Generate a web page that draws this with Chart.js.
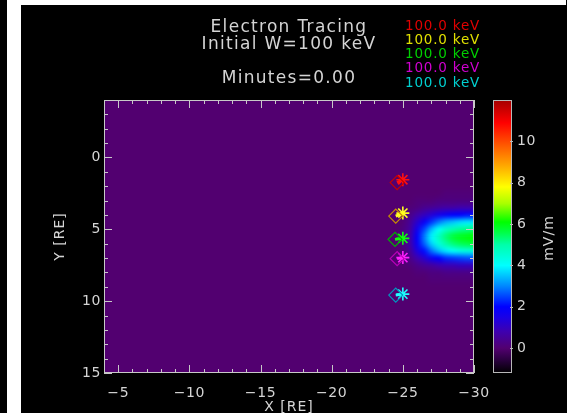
<!DOCTYPE html>
<html>
<head>
<meta charset="utf-8">
<script src="https://cdn.jsdelivr.net/npm/chart.js@4.4.1/dist/chart.umd.min.js"></script>
<style>
  html, body { margin: 0; padding: 0; background: #000; overflow: hidden; }
  #c { display: block; }
</style>
</head>
<body>
<canvas id="c" width="567" height="413"></canvas>
<script>
// Particle tracing snapshot: five 100 keV electrons over the electric field map

const particleLabels = ['100.0 keV', '100.0 keV', '100.0 keV', '100.0 keV', '100.0 keV'];
const particleColors = ['#ff1010', '#ffff20', '#10ff10', '#ff20ff', '#20ffff'];
const legendColors   = ['#e00000', '#e0e000', '#00d000', '#d000d0', '#00d0d0'];
const startColors    = ['#c80000', '#c89000', '#00b000', '#b800b8', '#0098c0'];

// current electron positions [RE]
const posX = [-25.0, -25.0, -25.0, -25.0, -25.0];
const posY = [1.55, 3.87, 5.63, 6.97, 9.51];
// launch positions [RE]
const startX = [-24.6, -24.5, -24.45, -24.6, -24.5];
const startY = [1.75, 4.08, 5.70, 7.04, 9.58];

const xTickValues = [-5, -10, -15, -20, -25, -30];
const xTickLabels = ['\u22125', '\u221210', '\u221215', '\u221220', '\u221225', '\u221230'];
const yTickValues = [0, 5, 10, 15];
const yTickLabels = ['0', '5', '10', '15'];
const cbTickValues = [0, 2, 4, 6, 8, 10];
const cbTickLabels = ['0', '2', '4', '6', '8', '10'];

// electric field magnitude [mV/m] on a 0.5 RE grid; zero everywhere else
const fieldX = [-24.5, -25.0, -25.5, -26.0, -26.5, -27.0, -27.5, -28.0, -28.5, -29.0, -29.5, -30.0];
const fieldY = [2.0, 2.5, 3.0, 3.5, 4.0, 4.5, 5.0, 5.5, 6.0, 6.5, 7.0, 7.5, 8.0, 8.5, 9.0];
const fieldE = [
  [0, 0.0, 0.0, 0.0, 0.0, 0.0, 0.0, 0.0, 0.0, 0.0, 0.0, 0.0],
  [0, 0.0, 0.0, 0.0, 0.0, 0.0, 0.0, 0.1, 0.1, 0.1, 0.1, 0.1],
  [0, 0.0, 0.0, 0.1, 0.1, 0.1, 0.2, 0.2, 0.2, 0.2, 0.2, 0.2],
  [0, 0.0, 0.1, 0.2, 0.4, 0.5, 0.6, 0.7, 0.7, 0.8, 0.8, 0.8],
  [0, 0.1, 0.3, 0.7, 1.0, 1.3, 1.6, 1.8, 2.0, 2.0, 2.1, 2.1],
  [0, 0.1, 0.5, 1.2, 1.8, 2.4, 2.9, 3.3, 3.5, 3.7, 3.8, 3.8],
  [0, 0.2, 0.6, 1.6, 2.5, 3.4, 4.1, 4.6, 4.9, 5.1, 5.2, 5.3],
  [0, 0.2, 0.7, 1.9, 2.9, 3.9, 4.7, 5.3, 5.7, 5.9, 6.0, 6.1],
  [0, 0.2, 0.7, 1.8, 2.7, 3.6, 4.4, 5.0, 5.3, 5.5, 5.6, 5.7],
  [0, 0.1, 0.5, 1.4, 2.1, 2.8, 3.4, 3.8, 4.1, 4.3, 4.4, 4.4],
  [0, 0.1, 0.3, 0.8, 1.2, 1.7, 2.0, 2.3, 2.4, 2.5, 2.6, 2.6],
  [0, 0.0, 0.1, 0.3, 0.5, 0.6, 0.8, 0.9, 0.9, 1.0, 1.0, 1.0],
  [0, 0.0, 0.0, 0.1, 0.1, 0.2, 0.2, 0.3, 0.3, 0.3, 0.3, 0.3],
  [0, 0.0, 0.0, 0.0, 0.0, 0.1, 0.1, 0.1, 0.1, 0.1, 0.1, 0.1],
  [0, 0.0, 0.0, 0.0, 0.0, 0.0, 0.0, 0.0, 0.0, 0.0, 0.0, 0.0]
];

// colour table (value in mV/m -> rgb)
const cmapValues = [-1.2, -0.6, 0.0, 0.8, 1.5, 2.0, 3.0, 4.0, 5.0, 5.6, 6.1, 7.0, 7.8, 8.8, 9.8, 10.9, 12.0];
const cmapColors = [
  [0, 0, 0], [40, 0, 60], [82, 0, 112], [62, 0, 175], [25, 0, 230], [0, 0, 255],
  [0, 135, 255], [0, 255, 255], [0, 255, 170], [0, 255, 70], [0, 255, 0], [170, 255, 0],
  [255, 255, 0], [255, 170, 0], [255, 90, 0], [255, 0, 0], [165, 0, 0]
];
const cbMin = -1.2, cbMax = 12.0;

const FONT = '"DejaVu Sans", sans-serif';
const TEXT = '#d4d4d4';

function colorOf(v) {
  if (v <= cmapValues[0]) return cmapColors[0];
  for (let i = 1; i < cmapValues.length; i++) {
    if (v <= cmapValues[i]) {
      const t = (v - cmapValues[i - 1]) / (cmapValues[i] - cmapValues[i - 1]);
      const a = cmapColors[i - 1], b = cmapColors[i];
      return [0, 1, 2].map(k => Math.round(a[k] + (b[k] - a[k]) * t));
    }
  }
  return cmapColors[cmapColors.length - 1];
}
const rgb = c => `rgb(${c[0]},${c[1]},${c[2]})`;

// field image: one pixel per grid node, upscaled by the canvas
const fieldImage = (() => {
  const cv = document.createElement('canvas');
  cv.width = fieldX.length; cv.height = fieldY.length;
  const g = cv.getContext('2d');
  const img = g.createImageData(cv.width, cv.height);
  for (let j = 0; j < fieldY.length; j++) {
    for (let i = 0; i < fieldX.length; i++) {
      const c = colorOf(fieldE[j][i]);
      const o = (j * cv.width + i) * 4;
      img.data[o] = c[0]; img.data[o + 1] = c[1]; img.data[o + 2] = c[2]; img.data[o + 3] = 255;
    }
  }
  g.putImageData(img, 0, 0);
  return cv;
})();

const backdrop = {
  id: 'backdrop',
  beforeDraw(chart) {
    const ctx = chart.ctx;
    ctx.letterSpacing = '0.6px';
    ctx.save();
    ctx.fillStyle = '#000';
    ctx.fillRect(0, 0, chart.width, chart.height);
    ctx.fillStyle = '#fff';
    ctx.fillRect(7, 0, 14, chart.height);
    ctx.fillRect(21, 0, chart.width - 22, 5);
    ctx.restore();
  }
};

const fieldMap = {
  id: 'fieldMap',
  beforeDatasetsDraw(chart) {
    const { ctx, chartArea: a, scales: { x, y } } = chart;
    ctx.save();
    ctx.beginPath();
    ctx.rect(a.left, a.top, a.right - a.left, a.bottom - a.top);
    ctx.clip();
    ctx.fillStyle = rgb(colorOf(0));
    ctx.fillRect(a.left, a.top, a.right - a.left, a.bottom - a.top);
    const nx = fieldX.length, ny = fieldY.length;
    const x0 = x.getPixelForValue(fieldX[0]), x1 = x.getPixelForValue(fieldX[nx - 1]);
    const y0 = y.getPixelForValue(fieldY[0]), y1 = y.getPixelForValue(fieldY[ny - 1]);
    const cw = (x1 - x0) / (nx - 1), ch = (y1 - y0) / (ny - 1);
    ctx.imageSmoothingEnabled = true;
    ctx.imageSmoothingQuality = 'high';
    ctx.drawImage(fieldImage, x0 - cw / 2, y0 - ch / 2, cw * nx, ch * ny);
    ctx.restore();
  }
};

const frame = {
  id: 'frame',
  afterDatasetsDraw(chart) {
    const { ctx, chartArea: a, scales: { x, y, cb } } = chart;
    ctx.save();
    // plot box
    ctx.strokeStyle = '#c8c8c8';
    ctx.lineWidth = 1;
    ctx.strokeRect(a.left + 0.5, a.top + 0.5, a.right - a.left - 1, a.bottom - a.top - 1);
    // inward ticks on all four sides
    ctx.beginPath();
    for (let v = -30; v <= -4; v++) {
      const px = Math.round(x.getPixelForValue(v)) + 0.5;
      const len = v % 5 === 0 ? 8 : 4;
      ctx.moveTo(px, a.bottom); ctx.lineTo(px, a.bottom - len);
      ctx.moveTo(px, a.top); ctx.lineTo(px, a.top + len);
    }
    for (let v = -4; v <= 15; v++) {
      const py = Math.round(y.getPixelForValue(v)) + 0.5;
      const len = v % 5 === 0 ? 8 : 4;
      ctx.moveTo(a.left, py); ctx.lineTo(a.left + len, py);
      ctx.moveTo(a.right, py); ctx.lineTo(a.right - len, py);
    }
    ctx.stroke();

    // colour bar
    const bx = a.right + 19, bw = 19;
    const bTop = cb.getPixelForValue(cbMax), bBot = cb.getPixelForValue(cbMin);
    const grad = ctx.createLinearGradient(0, bBot, 0, bTop);
    cmapValues.forEach((v, i) => grad.addColorStop((v - cbMin) / (cbMax - cbMin), rgb(cmapColors[i])));
    ctx.fillStyle = grad;
    ctx.fillRect(bx, bTop, bw, bBot - bTop);
    ctx.strokeStyle = '#b8b8b8';
    ctx.strokeRect(bx + 0.5, bTop + 0.5, bw - 1, bBot - bTop - 1);
    ctx.beginPath();
    cbTickValues.forEach(v => {
      const py = Math.round(cb.getPixelForValue(v)) + 0.5;
      ctx.moveTo(bx + bw - 2, py); ctx.lineTo(bx + bw + 1, py);
    });
    ctx.stroke();

    // headings
    ctx.fillStyle = TEXT;
    ctx.textAlign = 'center';
    ctx.textBaseline = 'alphabetic';
    const cx = (a.left + a.right) / 2;
    ctx.letterSpacing = '1.3px';
    ctx.font = '17px ' + FONT;
    ctx.fillText('Electron Tracing', cx, 31.5);
    ctx.fillText('Initial W=100 keV', cx, 49);
    ctx.fillText('Minutes=0.00', cx, 83);

    // particle legend
    ctx.textAlign = 'left';
    ctx.letterSpacing = '0.8px';
    ctx.font = '13.5px ' + FONT;
    particleLabels.forEach((t, i) => {
      ctx.fillStyle = legendColors[i];
      ctx.fillText(t, 405, 29.5 + i * 14.3);
    });

    // axis titles
    ctx.fillStyle = TEXT;
    ctx.letterSpacing = '1px';
    ctx.font = '14px ' + FONT;
    ctx.textAlign = 'center';
    ctx.fillText('X [RE]', cx, 411);
    ctx.textBaseline = 'middle';
    ctx.save();
    ctx.translate(60, (a.top + a.bottom) / 2);
    ctx.rotate(-Math.PI / 2);
    ctx.fillText('Y [RE]', 0, 0);
    ctx.restore();
    ctx.save();
    ctx.translate(549, 238);
    ctx.rotate(-Math.PI / 2);
    ctx.fillText('mV/m', 0, 0);
    ctx.restore();
    ctx.restore();
  }
};

const datasets = [];
particleLabels.forEach((label, i) => {
  datasets.push({
    label: label + ' start',
    data: [{ x: startX[i], y: startY[i] }],
    pointStyle: 'rectRot', pointRadius: 7,
    borderColor: startColors[i], backgroundColor: 'rgba(0,0,0,0)', borderWidth: 1.2
  });
  datasets.push({
    label: label + ' path',
    data: [{ x: startX[i], y: startY[i] }, { x: posX[i], y: posY[i] }],
    showLine: true, pointRadius: 0, borderWidth: 3, borderColor: particleColors[i]
  });
  datasets.push({
    label: label,
    data: [{ x: posX[i], y: posY[i] }],
    pointStyle: 'star', pointRadius: 6.5,
    borderColor: particleColors[i], backgroundColor: particleColors[i], borderWidth: 1.6
  });
});

const tickFont = { family: FONT, size: 14 };

new Chart(document.getElementById('c'), {
  type: 'scatter',
  data: { datasets },
  options: {
    responsive: false,
    animation: false,
    devicePixelRatio: 1,
    layout: { padding: { top: 100, left: 0, right: 0, bottom: 0 } },
    plugins: { legend: { display: false }, tooltip: { enabled: false }, title: { display: false } },
    scales: {
      x: {
        type: 'linear', reverse: true, min: -30, max: -4,
        afterBuildTicks: s => { s.ticks = xTickValues.map(v => ({ value: v })); },
        afterFit: s => { s.height = 40; },
        grid: { display: false, drawTicks: false }, border: { display: false },
        ticks: {
          color: TEXT, font: tickFont, padding: 12, maxRotation: 0, autoSkip: false,
          callback: v => xTickLabels[xTickValues.indexOf(v)]
        }
      },
      y: {
        type: 'linear', reverse: true, min: -4, max: 15,
        afterBuildTicks: s => { s.ticks = yTickValues.map(v => ({ value: v })); },
        afterFit: s => { s.width = 104; },
        grid: { display: false, drawTicks: false }, border: { display: false },
        ticks: {
          color: TEXT, font: tickFont, padding: 3, autoSkip: false,
          callback: v => yTickLabels[yTickValues.indexOf(v)]
        }
      },
      cb: {
        type: 'linear', position: 'right', min: cbMin, max: cbMax,
        afterBuildTicks: s => { s.ticks = cbTickValues.map(v => ({ value: v })); },
        afterFit: s => { s.width = 93; },
        grid: { display: false, drawTicks: true, tickLength: 39 }, border: { display: false },
        ticks: {
          color: TEXT, font: tickFont, padding: 4, autoSkip: false,
          callback: v => cbTickLabels[cbTickValues.indexOf(v)]
        }
      }
    }
  },
  plugins: [backdrop, fieldMap, frame]
});
</script>
</body>
</html>
